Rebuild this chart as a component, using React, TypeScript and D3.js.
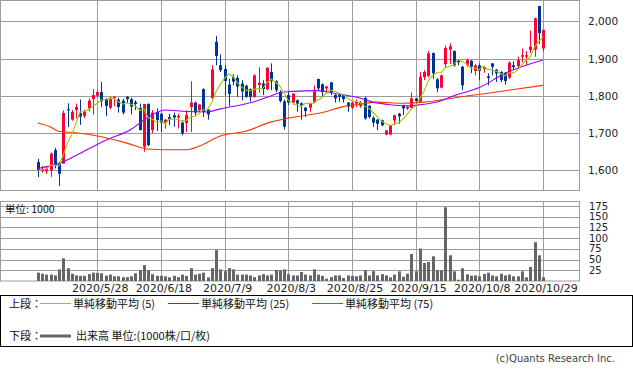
import React from "react";
import * as d3 from "d3";

// ---- data (trading days 2020/5/8 .. 2020/10/29, index 0..119) ----
const opens = [
  1622, 1598, 1597, 1600, 1654, 1618, 1618, 1764, 1736, 1762,
  1754, 1746, 1766, 1791, 1800, 1810, 1790, 1768, 1795, 1790,
  1787, 1797, 1791, 1783, 1767, 1663, 1778, 1708, 1756, 1752,
  1728, 1743, 1748, 1742, 1728, 1727, 1770, 1782, 1761, 1818,
  1763, 1794, 1945, 1882, 1872, 1830, 1850, 1848, 1833, 1827,
  1818, 1797, 1829, 1833, 1818, 1864, 1839, 1811, 1785, 1802,
  1782, 1788, 1780, 1768, 1768, 1782, 1845, 1831, 1820, 1836,
  1802, 1802, 1803, 1782, 1768, 1779, 1773, 1794, 1773, 1741,
  1736, 1734, 1696, 1696, 1734, 1752, 1775, 1766, 1768, 1793,
  1784, 1850, 1853, 1915, 1844, 1822, 1885, 1924, 1920, 1894,
  1878, 1882, 1894, 1867, 1882, 1872, 1852, 1887, 1870, 1864,
  1862, 1849, 1882, 1880, 1905, 1905, 1923, 1924, 2041, 1927,
];
const highs = [
  1631, 1612, 1610, 1648, 1660, 1623, 1761, 1780, 1762, 1779,
  1790, 1763, 1793, 1818, 1815, 1837, 1793, 1798, 1799, 1795,
  1792, 1799, 1795, 1788, 1779, 1778, 1780, 1762, 1766, 1752,
  1738, 1752, 1755, 1752, 1734, 1761, 1839, 1784, 1777, 1820,
  1763, 1882, 1961, 1911, 1882, 1846, 1858, 1855, 1842, 1830,
  1820, 1858, 1877, 1842, 1877, 1887, 1842, 1815, 1790, 1810,
  1806, 1790, 1782, 1770, 1782, 1828, 1846, 1833, 1827, 1837,
  1804, 1805, 1805, 1783, 1784, 1790, 1786, 1798, 1775, 1745,
  1738, 1736, 1708, 1722, 1749, 1754, 1776, 1772, 1809, 1794,
  1864, 1869, 1920, 1916, 1848, 1857, 1935, 1941, 1922, 1897,
  1880, 1900, 1896, 1885, 1887, 1880, 1860, 1888, 1872, 1866,
  1864, 1893, 1893, 1905, 1927, 1920, 1975, 2010, 2041, 1977,
];
const lows = [
  1582, 1594, 1590, 1582, 1605, 1558, 1618, 1716, 1733, 1739,
  1722, 1740, 1758, 1750, 1795, 1770, 1745, 1764, 1772, 1755,
  1750, 1780, 1750, 1762, 1707, 1650, 1665, 1700, 1705, 1703,
  1712, 1721, 1717, 1712, 1694, 1703, 1703, 1745, 1757, 1743,
  1736, 1792, 1882, 1864, 1800, 1773, 1828, 1797, 1788, 1795,
  1785, 1795, 1808, 1802, 1815, 1815, 1810, 1782, 1710, 1775,
  1776, 1757, 1736, 1743, 1757, 1780, 1815, 1797, 1806, 1802,
  1782, 1784, 1782, 1757, 1765, 1770, 1768, 1736, 1739, 1717,
  1708, 1718, 1694, 1694, 1721, 1725, 1748, 1762, 1766, 1780,
  1782, 1842, 1850, 1845, 1810, 1820, 1875, 1885, 1878, 1882,
  1815, 1878, 1861, 1855, 1842, 1862, 1828, 1855, 1837, 1837,
  1830, 1845, 1870, 1875, 1890, 1882, 1915, 1905, 1940, 1919,
];
const closes = [
  1600, 1604, 1604, 1645, 1614, 1591, 1754, 1761, 1757, 1770,
  1744, 1758, 1787, 1802, 1810, 1785, 1773, 1794, 1797, 1770,
  1755, 1791, 1771, 1778, 1708, 1778, 1668, 1755, 1735, 1728,
  1736, 1737, 1742, 1746, 1699, 1748, 1782, 1755, 1777, 1757,
  1750, 1871, 1907, 1869, 1840, 1805, 1838, 1825, 1812, 1797,
  1797, 1855, 1835, 1818, 1875, 1839, 1815, 1786, 1717, 1782,
  1806, 1779, 1774, 1759, 1779, 1812, 1820, 1810, 1825, 1810,
  1793, 1797, 1791, 1771, 1782, 1784, 1782, 1739, 1743, 1728,
  1725, 1721, 1707, 1721, 1748, 1745, 1766, 1770, 1793, 1786,
  1851, 1864, 1914, 1860, 1820, 1855, 1928, 1933, 1882, 1890,
  1828, 1896, 1878, 1882, 1867, 1876, 1848, 1878, 1860, 1842,
  1840, 1889, 1877, 1896, 1909, 1909, 1932, 2008, 1968, 1977,
];
const volumes = [
  19.5, 17, 15, 15, 13, 27, 53, 30, 17, 13,
  12, 12, 16, 19.5, 19, 18, 12.5, 15, 11, 11,
  9, 9, 11, 18, 25, 37, 25, 16, 12, 12,
  11, 8.5, 12, 9, 15, 12, 30, 15, 17, 19.5,
  8.5, 30, 72, 27, 23, 30, 27, 15, 15, 15,
  13, 9, 13, 16, 13, 15, 26, 25, 27, 16,
  13, 13, 21, 15, 13, 27, 15, 12, 5.5, 9,
  13, 13, 7, 13, 11.7, 11, 13, 25, 13, 23,
  13, 16, 13, 8.6, 15, 22.6, 10, 17, 63, 22.6,
  75.7, 42, 44.5, 57.7, 25, 25, 172, 60, 22.6, 3,
  29.6, 15.6, 12.5, 13, 11, 16.4, 19.5, 13, 11, 17,
  13, 15, 11, 11, 22.6, 8.6, 32.8, 90.5, 60, 8.6,
];
// moving averages (day index, value)
const ma25Days = [0, 6, 9, 16, 22, 25, 30, 35, 40, 43, 48, 51, 55, 57, 60, 66, 71, 75, 79, 83, 87, 90, 95, 98, 104, 110, 113, 119];
const ma25Vals = [1605, 1623, 1640, 1681, 1710, 1735, 1762, 1758, 1757, 1765, 1776, 1784, 1800, 1809, 1812, 1814, 1804, 1797, 1783, 1776, 1773, 1776, 1787, 1800, 1822, 1860, 1874, 1896];
const ma75Days = [0, 3, 5, 9, 15, 21, 26, 30, 35, 38, 43, 49, 55, 59, 67, 72, 76, 80, 86, 91, 95, 100, 106, 112, 119];
const ma75Vals = [1727, 1716, 1704, 1701, 1690, 1673, 1657, 1655, 1655, 1665, 1692, 1705, 1730, 1740, 1755, 1771, 1778, 1783, 1780, 1783, 1789, 1798, 1807, 1817, 1828];

const tickDays = [14, 29, 44, 59, 74, 89, 104, 119];
const tickLabels = ["2020/5/28", "2020/6/18", "2020/7/9", "2020/8/3", "2020/8/25", "2020/9/15", "2020/10/8", "2020/10/29"];
const priceTicks = [1600, 1700, 1800, 1900, 2000];
const volTicks = [25, 50, 75, 100, 125, 150, 175];

const legendItems = [
  { label: "単純移動平均 (5)", color: "#99cc00" },
  { label: "単純移動平均 (25)", color: "#9900ff" },
  { label: "単純移動平均 (75)", color: "#ff3300" },
];

const UP = "#ff0033";
const DOWN = "#003399";
const GRID = "#9c9c9c";

export default function App() {
  const x = d3.scaleLinear().domain([0, 119]).range([37.8, 543]);
  const y = d3.scaleLinear().domain([1545.8, 2057.2]).range([190.5, 0]);
  const vy = d3.scaleLinear().domain([0, 186.7]).range([281, 201]);
  const fmt = d3.format(",");

  const ma5 = closes.map((_, i) => {
    const s = closes.slice(Math.max(0, i - 4), i + 1);
    return [i, d3.mean(s) as number] as [number, number];
  });
  const line = d3.line<[number, number]>().x((d) => x(d[0])).y((d) => y(d[1]));
  const smooth = d3.line<[number, number]>().x((d) => x(d[0])).y((d) => y(d[1])).curve(d3.curveMonotoneX);
  const ma25 = ma25Days.map((d, i) => [d, ma25Vals[i]] as [number, number]);
  const ma75 = ma75Days.map((d, i) => [d, ma75Vals[i]] as [number, number]);

  const font = "'DejaVu Sans', Verdana, sans-serif";
  const jfont = "'Noto Sans CJK JP', 'DejaVu Sans', sans-serif";

  return (
    <svg width={633} height={371} style={{ position: "absolute", left: 0, top: 0, background: "#fff" }}>
      {/* main panel grid */}
      {priceTicks.map((p) => (
        <line key={"pg" + p} x1={0} x2={579} y1={Math.round(y(p)) + 0.5} y2={Math.round(y(p)) + 0.5} stroke={GRID} />
      ))}
      {tickDays.map((d) => (
        <line key={"vg" + d} x1={Math.round(x(d)) + 0.5} x2={Math.round(x(d)) + 0.5} y1={0} y2={190} stroke={GRID} />
      ))}
      <rect x={0.5} y={0.5} width={579} height={190} fill="none" stroke={GRID} />
      {priceTicks.map((p) => (
        <text key={"pl" + p} x={588} y={y(p) + 4} fontSize={10.5} fontFamily={font} fill="#222">
          {fmt(p)}
        </text>
      ))}

      {/* candles */}
      {closes.map((c, i) => {
        const o = opens[i];
        const up = c >= o;
        const col = up ? UP : DOWN;
        const cx = Math.round(x(i));
        const top = y(Math.max(o, c));
        const bot = y(Math.min(o, c));
        return (
          <g key={"c" + i}>
            <line x1={cx + 0.5} x2={cx + 0.5} y1={y(highs[i])} y2={y(lows[i])} stroke={col} strokeWidth={1} />
            <rect x={cx - 1} y={top} width={3} height={Math.max(1, bot - top)} fill={col} />
          </g>
        );
      })}

      {/* moving averages */}
      <path d={smooth(ma75) || ""} fill="none" stroke="#ff3300" strokeWidth={1.1} />
      <path d={smooth(ma25) || ""} fill="none" stroke="#9900ff" strokeWidth={1.1} />
      <path d={line(ma5) || ""} fill="none" stroke="#99cc00" strokeWidth={1.1} />

      {/* volume panel */}
      {volTicks.map((v) => (
        <line key={"vgh" + v} x1={0} x2={579} y1={Math.round(vy(v)) + 0.5} y2={Math.round(vy(v)) + 0.5} stroke={GRID} />
      ))}
      {tickDays.map((d) => (
        <line key={"vgv" + d} x1={Math.round(x(d)) + 0.5} x2={Math.round(x(d)) + 0.5} y1={201} y2={281} stroke={GRID} />
      ))}
      <rect x={0.5} y={201.5} width={579} height={79.5} fill="none" stroke={GRID} />
      {volumes.map((v, i) => {
        const cx = Math.round(x(i));
        return <rect key={"v" + i} x={cx - 1} y={vy(v)} width={3} height={vy(0) - vy(v)} fill="#666666" />;
      })}
      {volTicks.map((v) => (
        <text key={"vl" + v} x={589} y={vy(v) + 3.5} fontSize={10} fontFamily={font} fill="#222">
          {v}
        </text>
      ))}
      <text x={5} y={213} fontSize={10.5} fontFamily={jfont} fill="#111">単位: 1000</text>

      {/* date labels */}
      {tickDays.map((d, i) => (
        <text key={"dl" + d} x={x(d) + 3} y={292} fontSize={11} fontFamily={font} fill="#222" textAnchor="middle">
          {tickLabels[i]}
        </text>
      ))}

      {/* legend */}
      <rect x={0.5} y={295.5} width={632} height={51} fill="none" stroke="#000" />
      <text x={9} y={308} fontSize={11} fontFamily={jfont} fill="#111">上段：</text>
      {legendItems.map((it, i) => {
        const lx = [40, 168, 312][i];
        return (
          <g key={"lg" + i}>
            <line x1={lx} x2={lx + 31} y1={303.5} y2={303.5} stroke={it.color} strokeWidth={1} />
            <text x={lx + 33} y={308} fontSize={11} fontFamily={jfont} fill="#111">{it.label}</text>
          </g>
        );
      })}
      <text x={9} y={340} fontSize={11} fontFamily={jfont} fill="#111">下段：</text>
      <line x1={40} x2={71} y1={336} y2={336} stroke="#666666" strokeWidth={3} />
      <text x={76} y={340} fontSize={11} fontFamily={jfont} fill="#111">出来高 単位:(1000株/口/枚)</text>

      <text x={615} y={362} fontSize={10} fontFamily={font} fill="#444" textAnchor="end">(c)Quants Research Inc.</text>
    </svg>
  );
}
